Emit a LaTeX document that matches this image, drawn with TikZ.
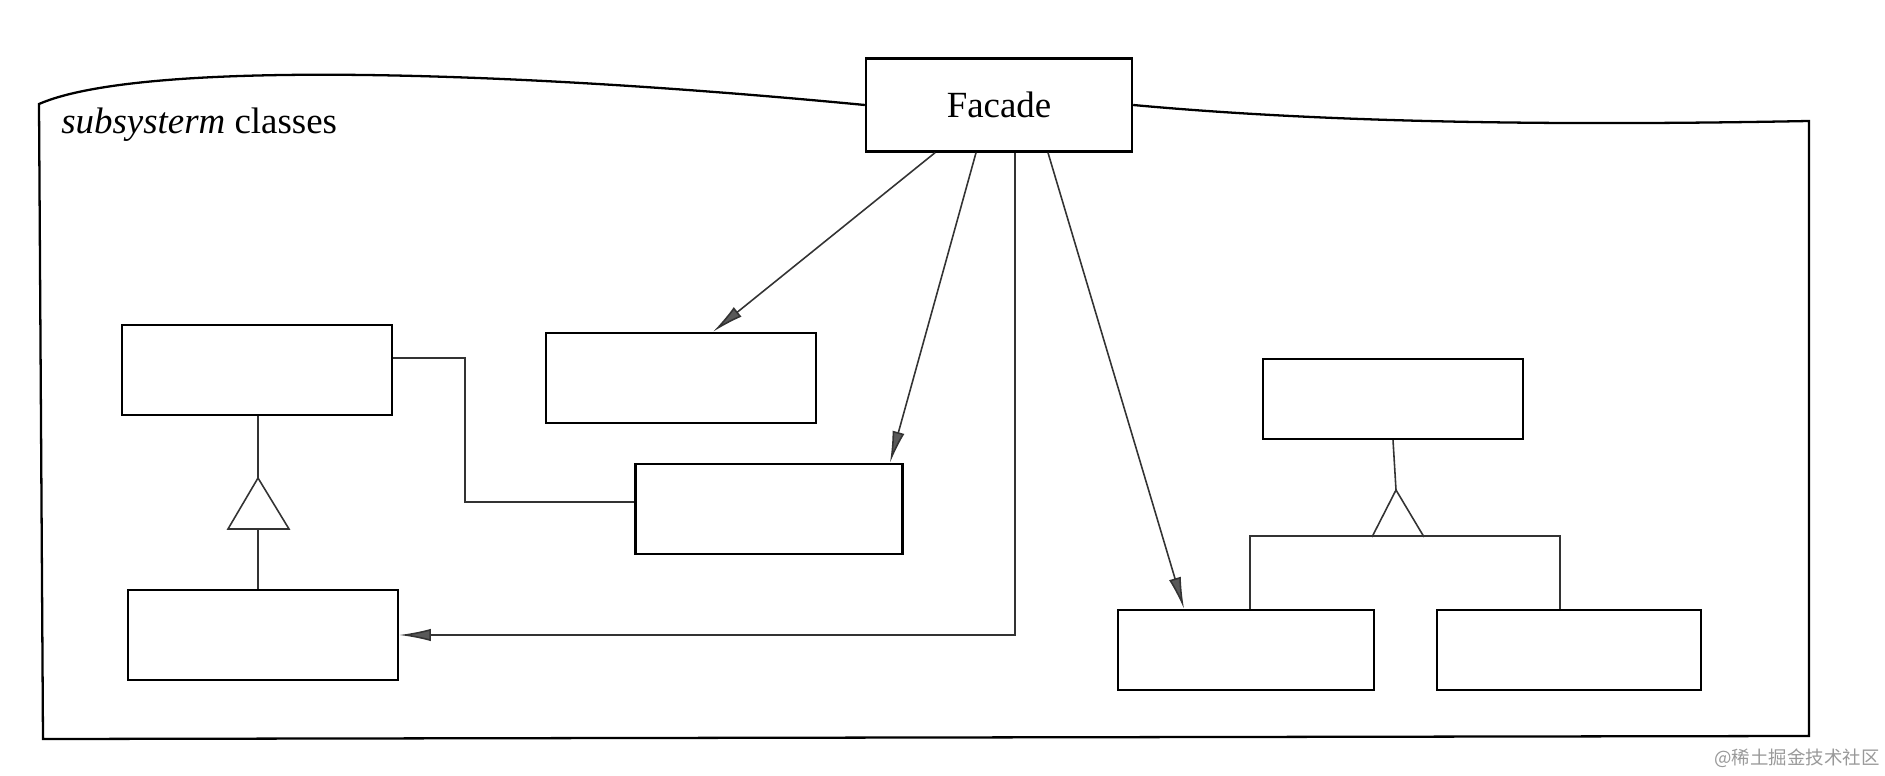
\documentclass[tikz,border=0pt]{standalone}
\usepackage{fontspec}
\setmainfont{Liberation Serif}
\newfontfamily\cjk{Noto Sans CJK SC}
\usetikzlibrary{arrows.meta, positioning}

\begin{document}
\begin{tikzpicture}[x=0.02cm, y=-0.02cm,
				>={Latex[length=18pt, width=7pt, fill=black!65]},   %Pfeilspitzen
				klasse/.style={draw, line width=1.4pt, inner sep=0pt, minimum width=5.4cm, minimum height=1.8cm},
				kleinklasse/.style={klasse, minimum width=5.2cm, minimum height=1.6cm},
				verbindung/.style={line width=0.9pt, draw=black!80},
				font=\fontsize{21}{25}\selectfont]
				%Bildbereich
				\useasboundingbox (0,0) rectangle (1885,776);
				%Facade zeichnen
				\node[klasse, minimum width=5.32cm, minimum height=1.86cm] (facade) at (999,105) {Facade};
				% Rahmen des Subsystems
				\draw[line width=1.3pt] (facade.west) .. controls (500,70) and (140,60) .. (39,104)
					-- (43,739) -- (1809,736) -- (1809,121) .. controls (1600,125) and (1350,125) .. (facade.east);
				\node[anchor=base west, inner sep=0pt] (titel) at (61,134) {{\itshape subsysterm} classes};
				% Klassen links
				\node[klasse] (oben) at (257,370) {};
				\node[klasse] (unten) at (263,635) {};
				\node[klasse] (mitte) at (681,378) {};
				\node[klasse, minimum width=5.34cm] (rechts) at (769,509) {};
				% Klassen rechts
				\node[kleinklasse] (basis) at (1393,399) {};
				\node[kleinklasse, minimum width=5.12cm] (kind1) at (1246,650) {};
				\node[kleinklasse, minimum width=5.28cm] (kind2) at (1569,650) {};
				% Vererbung links
				\coordinate (dreieckA) at (258,529);
				\draw[verbindung] (dreieckA |- unten.north) -- (dreieckA);
				\draw[verbindung] (228,529) -- (258,478) -- (289,529) -- cycle;
				\draw[verbindung] (258,478) -- (dreieckA |- oben.south);
				% Vererbung rechts
				\coordinate (dreieckE) at (1396,537);
				\draw[verbindung] (basis.south) -- (1396,490);
				\draw[verbindung] (1372,537) -- (1396,490) -- (1424,537);
				\draw[verbindung] ([xshift=0.08cm]kind1.north) -- ++(0,-73) -| ([xshift=-0.18cm]kind2.north);
				% Assoziation
				\draw[verbindung] ([yshift=0.24cm]oben.east) -- ++(72,0) |- ([yshift=0.14cm]rechts.west);
				% Pfeile der Facade
				\draw[verbindung, ->] ([xshift=-1.28cm]facade.south) -- ([xshift=0.64cm]mitte.north);
				\draw[verbindung, ->] ([xshift=-0.46cm]facade.south) -- ([xshift=2.42cm]rechts.north);
				\draw[verbindung, ->] ([xshift=0.32cm]facade.south) |- (unten.east);
				\draw[verbindung, ->] ([xshift=0.98cm]facade.south) -- ([xshift=-1.24cm]kind1.north);
				%Wasserzeichen
				\node[text=black!40, font=\cjk\fontsize{10.5}{12}\selectfont] (marke) at (1797,758) {@稀土掘金技术社区};
			\end{tikzpicture}
\end{document}
